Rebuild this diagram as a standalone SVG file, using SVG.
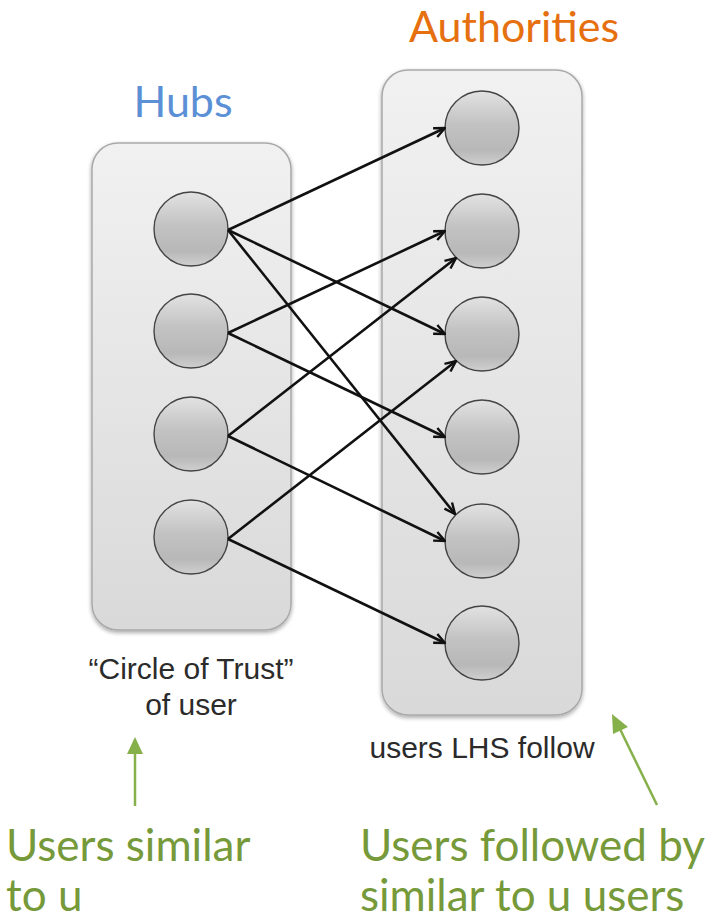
<svg xmlns="http://www.w3.org/2000/svg" width="709" height="921" viewBox="0 0 709 921">
  <defs>
    <linearGradient id="panelFill" x1="0" y1="0" x2="0" y2="1">
      <stop offset="0" stop-color="#f1f1f1"/>
      <stop offset="1" stop-color="#d9d9d9"/>
    </linearGradient>
    <linearGradient id="ballFill" x1="0" y1="0" x2="0" y2="1">
      <stop offset="0" stop-color="#e2e2e2"/>
      <stop offset="0.45" stop-color="#c2c2c2"/>
      <stop offset="0.8" stop-color="#b8b8b8"/>
      <stop offset="1" stop-color="#cfcfcf"/>
    </linearGradient>
    <filter id="soft" x="-10%" y="-10%" width="120%" height="120%">
      <feGaussianBlur in="SourceAlpha" stdDeviation="2"/>
      <feOffset dx="0" dy="2"/>
      <feComponentTransfer><feFuncA type="linear" slope="0.35"/></feComponentTransfer>
      <feMerge><feMergeNode/><feMergeNode in="SourceGraphic"/></feMerge>
    </filter>
    <marker id="arrow" viewBox="0 0 12 12" refX="11" refY="6" markerWidth="13" markerHeight="13" markerUnits="userSpaceOnUse" orient="auto">
      <path d="M1,1.5 L11,6 L1,10.5" fill="none" stroke="#111" stroke-width="2.2"/>
    </marker>
  </defs>
  <style>
    .panel { fill: url(#panelFill); stroke: #a9a9a9; stroke-width: 1.5; }
    .ball { fill: url(#ballFill); stroke: #444; stroke-width: 1.4; }
    .edge { fill: none; stroke: #111; stroke-width: 2.6; marker-end: url(#arrow); }
    .title { font-family: Lato, "Open Sans", sans-serif; font-size: 43px; }
    .caption { font-family: "Liberation Sans", Arial, sans-serif; font-size: 30px; fill: #2b2b2b; text-anchor: middle; }
    .note { font-family: Lato, "Open Sans", sans-serif; font-size: 44px; fill: #76993a; }
    .pointer { stroke: #86b04a; stroke-width: 2.5; fill: none; }
    .pointerHead { fill: #86b04a; }
  </style>

  <rect width="709" height="921" fill="#ffffff"/>

  <!-- group panels -->
  <g id="hubs-panel">
    <rect class="panel" x="92" y="143" width="199" height="487" rx="26" filter="url(#soft)"/>
    <text class="title" x="183" y="117" text-anchor="middle" fill="#5b8fd6">Hubs</text>
    <text class="caption" x="191" y="679">“Circle of Trust”</text>
    <text class="caption" x="191" y="715">of user</text>
  </g>
  <g id="authorities-panel">
    <rect class="panel" x="382" y="70" width="200" height="645" rx="26" filter="url(#soft)"/>
    <text class="title" x="514" y="42" text-anchor="middle" fill="#e6700f">Authorities</text>
    <text class="caption" x="482" y="758">users LHS follow</text>
  </g>

  <!-- hub nodes -->
  <g id="hub-1"><circle class="ball" cx="191" cy="229" r="37"/></g>
  <g id="hub-2"><circle class="ball" cx="191" cy="331" r="37"/></g>
  <g id="hub-3"><circle class="ball" cx="191" cy="434" r="37"/></g>
  <g id="hub-4"><circle class="ball" cx="191" cy="537" r="37"/></g>

  <!-- authority nodes -->
  <g id="auth-1"><circle class="ball" cx="482" cy="128" r="37"/></g>
  <g id="auth-2"><circle class="ball" cx="482" cy="231" r="37"/></g>
  <g id="auth-3"><circle class="ball" cx="482" cy="334" r="37"/></g>
  <g id="auth-4"><circle class="ball" cx="482" cy="437" r="37"/></g>
  <g id="auth-5"><circle class="ball" cx="482" cy="541" r="37"/></g>
  <g id="auth-6"><circle class="ball" cx="482" cy="643" r="37"/></g>

  <!-- follow links -->
  <g id="connectors">
    <line class="edge" x1="228" y1="230" x2="445" y2="128"/>
    <line class="edge" x1="228" y1="230" x2="445" y2="334"/>
    <line class="edge" x1="228" y1="230" x2="455" y2="514"/>
    <line class="edge" x1="228" y1="333" x2="445" y2="231"/>
    <line class="edge" x1="228" y1="333" x2="445" y2="437"/>
    <line class="edge" x1="228" y1="436" x2="456" y2="258"/>
    <line class="edge" x1="228" y1="436" x2="445" y2="541"/>
    <line class="edge" x1="228" y1="539" x2="456" y2="361"/>
    <line class="edge" x1="228" y1="539" x2="445" y2="643"/>
  </g>

  <!-- annotations -->
  <g id="note-left">
    <line class="pointer" x1="135" y1="806" x2="135" y2="752"/>
    <polygon class="pointerHead" points="135,737 127,754 143,754"/>
    <text class="note" x="6" y="861">Users similar</text>
    <text class="note" x="6" y="911">to u</text>
  </g>
  <g id="note-right">
    <line class="pointer" x1="657" y1="805" x2="619" y2="727"/>
    <polygon class="pointerHead" points="612,714 613,734 628,727"/>
    <text class="note" x="360" y="861">Users followed by</text>
    <text class="note" x="360" y="911">similar to u users</text>
  </g>
</svg>
